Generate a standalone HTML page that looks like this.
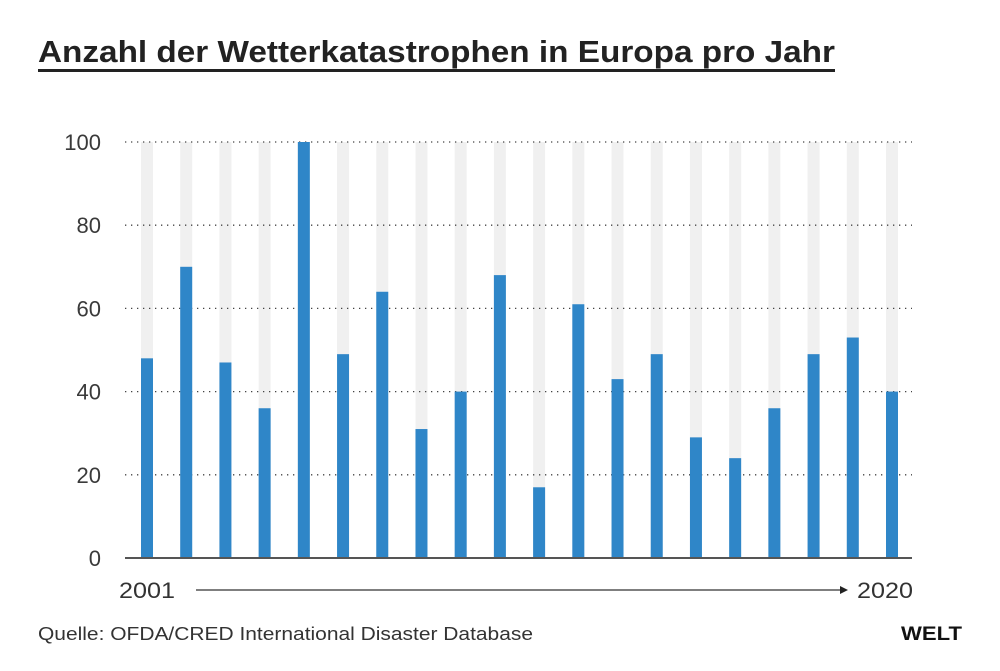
<!DOCTYPE html>
<html><head><meta charset="utf-8"><style>
body{margin:0;background:#fff;width:1000px;height:666px;overflow:hidden;font-family:"Liberation Sans",sans-serif}
</style></head><body>
<svg width="1000" height="666" viewBox="0 0 1000 666" xmlns="http://www.w3.org/2000/svg">
<text x="38" y="62" font-size="31" font-weight="bold" fill="#222" textLength="797" lengthAdjust="spacingAndGlyphs">Anzahl der Wetterkatastrophen in Europa pro Jahr</text>
<rect x="38" y="69" width="797" height="3" fill="#222"/>
<g id="grid"></g>
<g id="bars"></g>
<g id="yticks"></g>
<line x1="125" y1="558" x2="912" y2="558" stroke="#555" stroke-width="2"/>
<text x="119" y="598" font-size="22" fill="#333" textLength="56" lengthAdjust="spacingAndGlyphs">2001</text>
<line x1="196" y1="590" x2="840" y2="590" stroke="#333" stroke-width="1.2"/>
<polygon points="840,586 848,590 840,594" fill="#222"/>
<text x="857" y="598" font-size="22" fill="#333" textLength="56" lengthAdjust="spacingAndGlyphs">2020</text>
<text x="38" y="640" font-size="18" fill="#333" textLength="495" lengthAdjust="spacingAndGlyphs">Quelle: OFDA/CRED International Disaster Database</text>
<text x="901" y="640" font-size="19" font-weight="bold" fill="#111" textLength="61" lengthAdjust="spacingAndGlyphs">WELT</text>
</svg>
<script>
const years=[2001,2002,2003,2004,2005,2006,2007,2008,2009,2010,2011,2012,2013,2014,2015,2016,2017,2018,2019,2020];
const counts=[48,70,47,36,100,49,64,31,40,68,17,61,43,49,29,24,36,49,53,40];
const yTicks=[0,20,40,60,80,100];
const NS="http://www.w3.org/2000/svg";
const y0=558,yMax=100,ph=416;
function yScale(v){return y0-v/yMax*ph;}
function xScale(i){return 147+i*(892-147)/(years.length-1);}
const grid=document.getElementById('grid'),bars=document.getElementById('bars'),yt=document.getElementById('yticks');
yTicks.forEach(t=>{
  if(t>0){const l=document.createElementNS(NS,'line');
  l.setAttribute('x1',125);l.setAttribute('x2',912);l.setAttribute('y1',yScale(t));l.setAttribute('y2',yScale(t));
  l.setAttribute('stroke','#444');l.setAttribute('stroke-width','1.3');l.setAttribute('stroke-dasharray','1.3 4.7');
  
  
  grid.appendChild(l);}
  const tx=document.createElementNS(NS,'text');
  tx.setAttribute('x',101);tx.setAttribute('y',yScale(t)+8);tx.setAttribute('text-anchor','end');
  tx.setAttribute('font-size','22');tx.setAttribute('fill','#3a3a3a');tx.textContent=t;
  
  
  yt.appendChild(tx);
});
years.forEach((y,i)=>{
  const bg=document.createElementNS(NS,'rect');
  bg.setAttribute('x',xScale(i)-6);bg.setAttribute('y',yScale(100));bg.setAttribute('width',12);bg.setAttribute('height',ph);
  bg.setAttribute('fill','#f0f0f0');
  
  
  grid.parentNode.insertBefore(bg,grid);
  const r=document.createElementNS(NS,'rect');
  r.setAttribute('x',xScale(i)-6);r.setAttribute('y',yScale(counts[i]));r.setAttribute('width',12);r.setAttribute('height',y0-yScale(counts[i]));
  r.setAttribute('fill','#2f86c8');
  
  
  bars.appendChild(r);
});
</script>
</body></html>
